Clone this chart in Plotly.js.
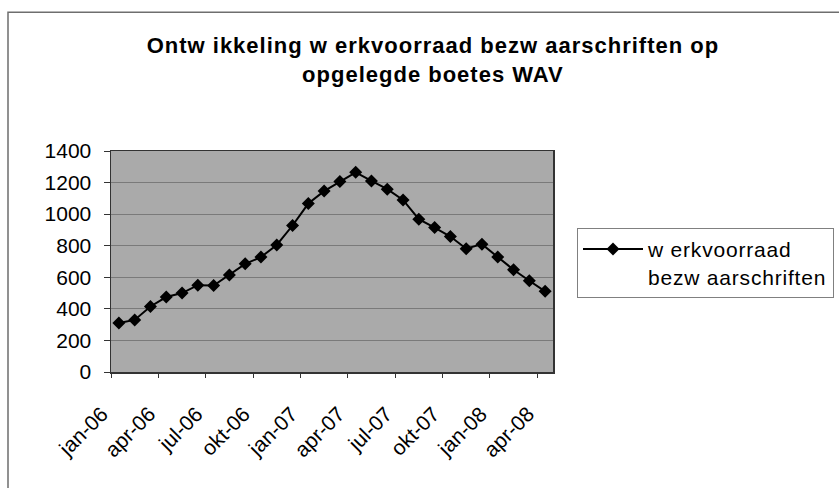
<!DOCTYPE html>
<html>
<head>
<meta charset="utf-8">
<script src="https://cdn.plot.ly/plotly-3.0.1.min.js"></script>
<style>
html,body{margin:0;padding:0;background:#fff;}
#chart{width:839px;height:488px;}
.gtitle{letter-spacing:1px;}
.legendtext{letter-spacing:0.8px;}
</style>
</head>
<body>
<div id="chart"></div>
<script>
// Months (categories), one per point
var months = ['jan-06','feb-06','mrt-06','apr-06','mei-06','jun-06','jul-06','aug-06','sep-06','okt-06','nov-06','dec-06',
              'jan-07','feb-07','mrt-07','apr-07','mei-07','jun-07','jul-07','aug-07','sep-07','okt-07','nov-07','dec-07',
              'jan-08','feb-08','mrt-08','apr-08'];
// Werkvoorraad bezwaarschriften
var values = [310, 330, 415, 475, 500, 550, 548, 615, 685, 728, 805, 928,
              1067, 1146, 1206, 1265, 1210, 1158, 1090, 968, 915, 858, 781, 810,
              728, 648, 578, 511];
// Labelled categories on the x axis
var tickLabels = ['jan-06','apr-06','jul-06','okt-06','jan-07','apr-07','jul-07','okt-07','jan-08','apr-08'];
var yTicks = [0, 200, 400, 600, 800, 1000, 1200, 1400];

var FONT = 'Liberation Sans, Arial, sans-serif';
var n = months.length;
// tick marks sit on the left boundary of each labelled category
var boundaryTicks = tickLabels.map(function(l){ return months.indexOf(l) - 0.5; });

var trace = {
  type: 'scatter',
  mode: 'lines+markers',
  x: months,
  y: values,
  name: 'w erkvoorraad<br>bezw aarschriften',
  line: {color: '#000000', width: 2},
  marker: {symbol: 'diamond', size: 10, color: '#000000'},
  xaxis: 'x', yaxis: 'y'
};
// empty trace so the tick-mark axis (x2) is always drawn
var tickAxisHolder = {type: 'scatter', mode: 'none', x: [], y: [], xaxis: 'x2', yaxis: 'y', showlegend: false, hoverinfo: 'skip'};

var layout = {
  width: 839, height: 488,
  margin: {l: 111, r: 286, t: 151, b: 116, autoexpand: false},
  paper_bgcolor: '#ffffff',
  plot_bgcolor: '#aaaaaa',
  font: {family: FONT, size: 21, color: '#000000'},
  title: {
    text: 'Ontw ikkeling w erkvoorraad bezw aarschriften op<br>opgelegde boetes WAV',
    font: {family: FONT, size: 22, weight: 'bold', color: '#000000'},
    xref: 'container', x: 0.516, xanchor: 'center',
    yref: 'container', y: 1 - 53/488, yanchor: 'top'
  },
  showlegend: true,
  legend: {
    x: 1.0543, y: 0.652, xanchor: 'left', yanchor: 'top',
    bgcolor: '#ffffff', bordercolor: '#808080', borderwidth: 1,
    font: {family: FONT, size: 21, color: '#000000'},
    valign: 'top', itemwidth: 60
  },
  xaxis: {
    type: 'category',
    range: [-0.5, n - 0.5],
    tickmode: 'array', tickvals: tickLabels, ticktext: tickLabels,
    ticks: '', tickangle: -45,
    ticklabelshift: -17, ticklabelstandoff: 20,
    showgrid: false, zeroline: false,
    showline: true, mirror: true, linecolor: '#333333', linewidth: 1.5,
    tickfont: {family: FONT, size: 21, color: '#000000'}
  },
  xaxis2: {
    overlaying: 'x', anchor: 'y', side: 'bottom',
    type: 'linear', range: [-0.5, n - 0.5],
    tickmode: 'array', tickvals: boundaryTicks,
    showticklabels: false, ticks: 'outside', ticklen: 5, tickcolor: '#333333', tickwidth: 1,
    showgrid: false, zeroline: false, showline: false
  },
  yaxis: {
    range: [0, 1400],
    tickmode: 'array', tickvals: yTicks,
    ticks: 'outside', ticklen: 6, tickcolor: '#333333', tickwidth: 1,
    ticklabelstandoff: 8,
    showgrid: true, gridcolor: '#7a7a7a', gridwidth: 1.2,
    zeroline: false,
    showline: true, mirror: true, linecolor: '#333333', linewidth: 1.5,
    tickfont: {family: FONT, size: 21, color: '#000000'}
  },
  shapes: [{
    type: 'rect', xref: 'paper', yref: 'paper',
    x0: (8 - 111) / 442, x1: 2,
    y0: -2, y1: (372.5 - 12) / 221.5,
    line: {color: '#6e6e6e', width: 1.5},
    fillcolor: 'rgba(0,0,0,0)', layer: 'below'
  }]
};

Plotly.newPlot('chart', [trace, tickAxisHolder], layout, {displayModeBar: false, staticPlot: true});
</script>
</body>
</html>
